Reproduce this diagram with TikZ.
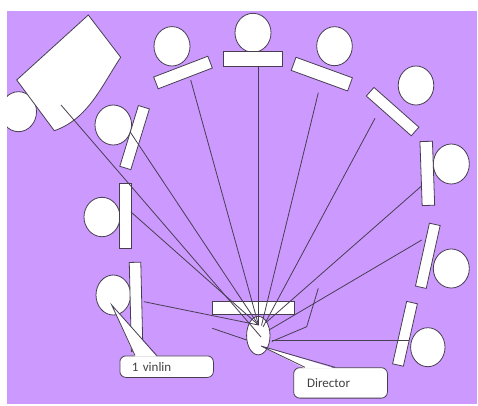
\documentclass[tikz,border=0pt]{standalone}
\usepackage{fontspec}
\setmainfont{Carlito}
\usetikzlibrary{shapes.geometric}
\definecolor{bg}{RGB}{204,153,255}
\definecolor{ink}{RGB}{72,62,82}
\definecolor{txt}{RGB}{64,64,64}
\tikzset{
  seat/.style={draw=ink, fill=white, line width=0.8pt, inner sep=0pt, rectangle},
  head/.style={draw=ink, fill=white, line width=0.8pt, inner sep=0pt, ellipse},
  cue/.style={draw=ink, line width=0.8pt},
  callbox/.style={draw=ink, fill=white, line width=0.8pt, rounded corners=6pt,
    font=\fontsize{13}{15}\selectfont, text=txt, align=left, anchor=north west},
}
\begin{document}
\begin{tikzpicture}[x=1pt,y=-1pt]
\useasboundingbox (0,0) rectangle (478,405);
\fill[white] (0,0) rectangle (478,405);
\fill[bg] (7,11) rectangle (477,404);
\begin{scope}
\clip (7,11) rectangle (477,404);
% piano with player
\node[head, minimum width=36pt, minimum height=40pt] (cP) at (18.5,111.7) {};
\draw[draw=ink, fill=white, line width=0.8pt] (16.7,80) -- (88.3,15) -- (120.7,57.3)
  .. controls (101,87) and (88,119) .. (54.3,130.7) -- cycle;
% heads
\node[head, minimum width=36pt, minimum height=39.4pt] (cTL) at (172,46.3) {};
\node[head, minimum width=36pt, minimum height=39pt] (cTC) at (253,32.8) {};
\node[head, minimum width=35.6pt, minimum height=39pt] (cTR) at (334.5,46.2) {};
\node[head, minimum width=35.6pt, minimum height=39pt] (cRU) at (416,85.5) {};
\node[head, minimum width=36pt, minimum height=40pt] (cR) at (451.3,164) {};
\node[head, minimum width=36pt, minimum height=39pt] (cRM) at (451.3,268.5) {};
\node[head, minimum width=34.4pt, minimum height=39pt] (cRL) at (427.8,347.2) {};
\node[head, minimum width=36.6pt, minimum height=40pt] (cLU) at (113.3,125) {};
\node[head, minimum width=36pt, minimum height=39.4pt] (cLM) at (102,217) {};
\node[head, minimum width=34.6pt, minimum height=40pt] (cLL) at (113.3,295) {};
% stands
\node[seat, minimum width=58pt, minimum height=12.6pt, rotate=21] (rTL) at (183,72.5) {};
\node[seat, minimum width=59.4pt, minimum height=15pt] (rTC) at (253,59.2) {};
\node[seat, minimum width=60pt, minimum height=14pt, rotate=-20] (rTR) at (321.8,74.1) {};
\node[seat, minimum width=60pt, minimum height=11.5pt, rotate=-41.5] (rRU) at (392.6,111.6) {};
\node[seat, minimum width=12.5pt, minimum height=64pt, rotate=2] (rR) at (427.3,173.4) {};
\node[seat, minimum width=11pt, minimum height=64.4pt, rotate=-12.5] (rRM) at (427.8,255.8) {};
\node[seat, minimum width=11pt, minimum height=64pt, rotate=-12.7] (rRL) at (405,333.8) {};
\node[seat, minimum width=11.5pt, minimum height=63.5pt, rotate=-17] (rLU) at (134.6,137.6) {};
\node[seat, minimum width=11.7pt, minimum height=65pt] (rLM) at (125.2,215.8) {};
\node[seat, minimum width=11.5pt, minimum height=89pt, rotate=1.4] (rLL) at (136.1,306.8) {};
% director
\node[seat, minimum width=81.5pt, minimum height=13pt] (pod) at (253.2,307.5) {};
\node[head, minimum width=23.4pt, minimum height=38.5pt] (dir) at (258.3,335.6) {};
% line end points
\coordinate (pP) at (61,105);   \coordinate (eP) at (261,337);
\coordinate (pTL) at (190.7,80); \coordinate (eA) at (258.5,325);
\coordinate (pTC) at (258.8,66.7); \coordinate (eTC) at (258.8,325);
\coordinate (pTR) at (318.3,92.7); \coordinate (eTR) at (261.5,325.5);
\coordinate (pRU) at (375,118.3); \coordinate (eRU) at (263,327);
\coordinate (pR) at (421.5,186); \coordinate (eR) at (266,322.5);
\coordinate (pRM) at (421.7,240); \coordinate (eRM) at (269,330);
\coordinate (zA) at (318.3,288.3); \coordinate (zB) at (306.7,326.7); \coordinate (zC) at (271.7,341.5);
\coordinate (pRL) at (409,340.7); \coordinate (eRL) at (271.7,340.7);
\coordinate (pLU) at (130,131.7);
\coordinate (pLM) at (131,212);
\coordinate (pLL) at (144,301.7);
\coordinate (fA) at (212.3,328.3); \coordinate (fB) at (246.7,340);
% lines
\draw[cue] (pP) -- (eP);
\draw[cue] (pTL) -- (eA);
\draw[cue] (pTC) -- (eTC);
\draw[cue] (pTR) -- (eTR);
\draw[cue] (pRU) -- (eRU);
\draw[cue] (pR) -- (eR);
\draw[cue] (pRM) -- (eRM);
\draw[cue] (zA) -- (zB) -- (zC);
\draw[cue] (pRL) -- (eRL);
\draw[cue] (pLU) -- (eA);
\draw[cue] (pLM) -- (eA);
\draw[cue] (pLL) -- (eA);
\draw[cue] (fA) -- (fB);
% callout: 1 vinlin
\node[callbox, minimum height=21.5pt, text width=69.5pt, inner xsep=12pt, inner ysep=0pt] (vbox) at (119.5,355.5) {1 vinlin};
\coordinate (vtip) at (111.7,305);
\coordinate (vb1) at (135,355.5); \coordinate (vb2) at (156.7,355.5);
\fill[white] ([yshift=-1.2pt]vb1) -- (vtip) -- ([yshift=-1.2pt]vb2) -- cycle;
\draw[cue] (vb1) -- (vtip) -- (vb2);
% callout: Director
\node[callbox, minimum height=30.4pt, text width=66.9pt, inner xsep=13.4pt, inner ysep=0pt] (dbox) at (293.3,367.3) {Director};
\coordinate (dtip) at (261,346);
\coordinate (db1) at (305,367.3); \coordinate (db2) at (335,367.3);
\fill[white] ([yshift=-1.2pt]db1) -- (dtip) -- ([yshift=-1.2pt]db2) -- cycle;
\draw[cue] (db1) -- (dtip) -- (db2);
\end{scope}
\end{tikzpicture}
\end{document}
